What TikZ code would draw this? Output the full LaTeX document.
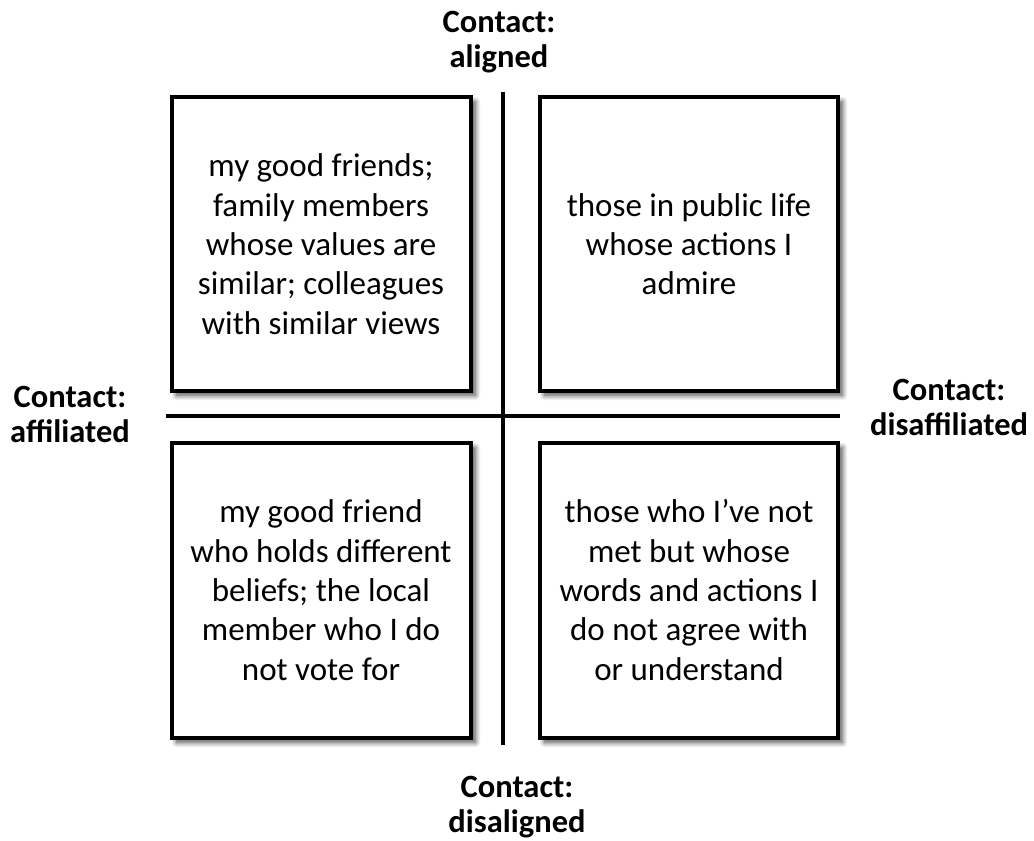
\documentclass[tikz,border=0pt]{standalone}
\usepackage{fontspec}
\setmainfont{Carlito}
\usetikzlibrary{shadows.blur}
\newcommand{\topstrut}{\rule{0pt}{25pt}}
\newcommand{\botstrut}{\rule[-8pt]{0pt}{8pt}}
\tikzset{
  quad/.style={draw=black, line width=4pt, fill=white,
    blur shadow={shadow xshift=4.5pt, shadow yshift=-4.5pt, shadow blur radius=5pt, shadow blur steps=12, shadow opacity=70}},
  quadtext/.style={align=center, font=\fontsize{33}{39.3}\selectfont, inner sep=0pt},
  axislabel/.style={align=center, font=\fontsize{32.5}{35}\selectfont\bfseries, inner sep=0pt},
  axis/.style={line width=3.4pt, draw=black}
}
\begin{document}
\begin{tikzpicture}[x=1pt, y=-1pt]
\useasboundingbox (0,0) rectangle (1034,841);
% boxes
\draw[quad] (172,97) rectangle (471,391);
\draw[quad] (540,97) rectangle (838,391);
\draw[quad] (172,443) rectangle (471,738);
\draw[quad] (540,443) rectangle (838,738);
% axes
\coordinate (vtop) at (503,92);
\coordinate (vbot) at (503,745);
\coordinate (hleft) at (166,416);
\coordinate (hright) at (840,416);
\draw[axis] (vtop) -- (vbot);
\draw[axis] (hleft) -- (hright);
% texts
\node[quadtext] (tl) at (321,247) {\topstrut my good friends;\\family members\\whose values are\\similar; colleagues\\with similar views\botstrut};
\node[quadtext] (tr) at (689,247) {\topstrut those in public life\\whose actions I\\admire\botstrut};
\node[quadtext] (bl) at (321,593) {\topstrut my good friend\\who holds different\\beliefs; the local\\member who I do\\not vote for\botstrut};
\node[quadtext] (br) at (689,593) {\topstrut those who I’ve not\\met but whose\\words and actions I\\do not agree with\\or understand\botstrut};
% axis labels
\node[axislabel] (top) at (499,41) {\topstrut Contact:\\aligned\botstrut};
\node[axislabel] (left) at (70,416) {\topstrut Contact:\\affiliated\botstrut};
\node[axislabel] (right) at (949,409) {\topstrut Contact:\\disaffiliated\botstrut};
\node[axislabel] (bottom) at (517,806) {\topstrut Contact:\\disaligned\botstrut};
\end{tikzpicture}
\end{document}
